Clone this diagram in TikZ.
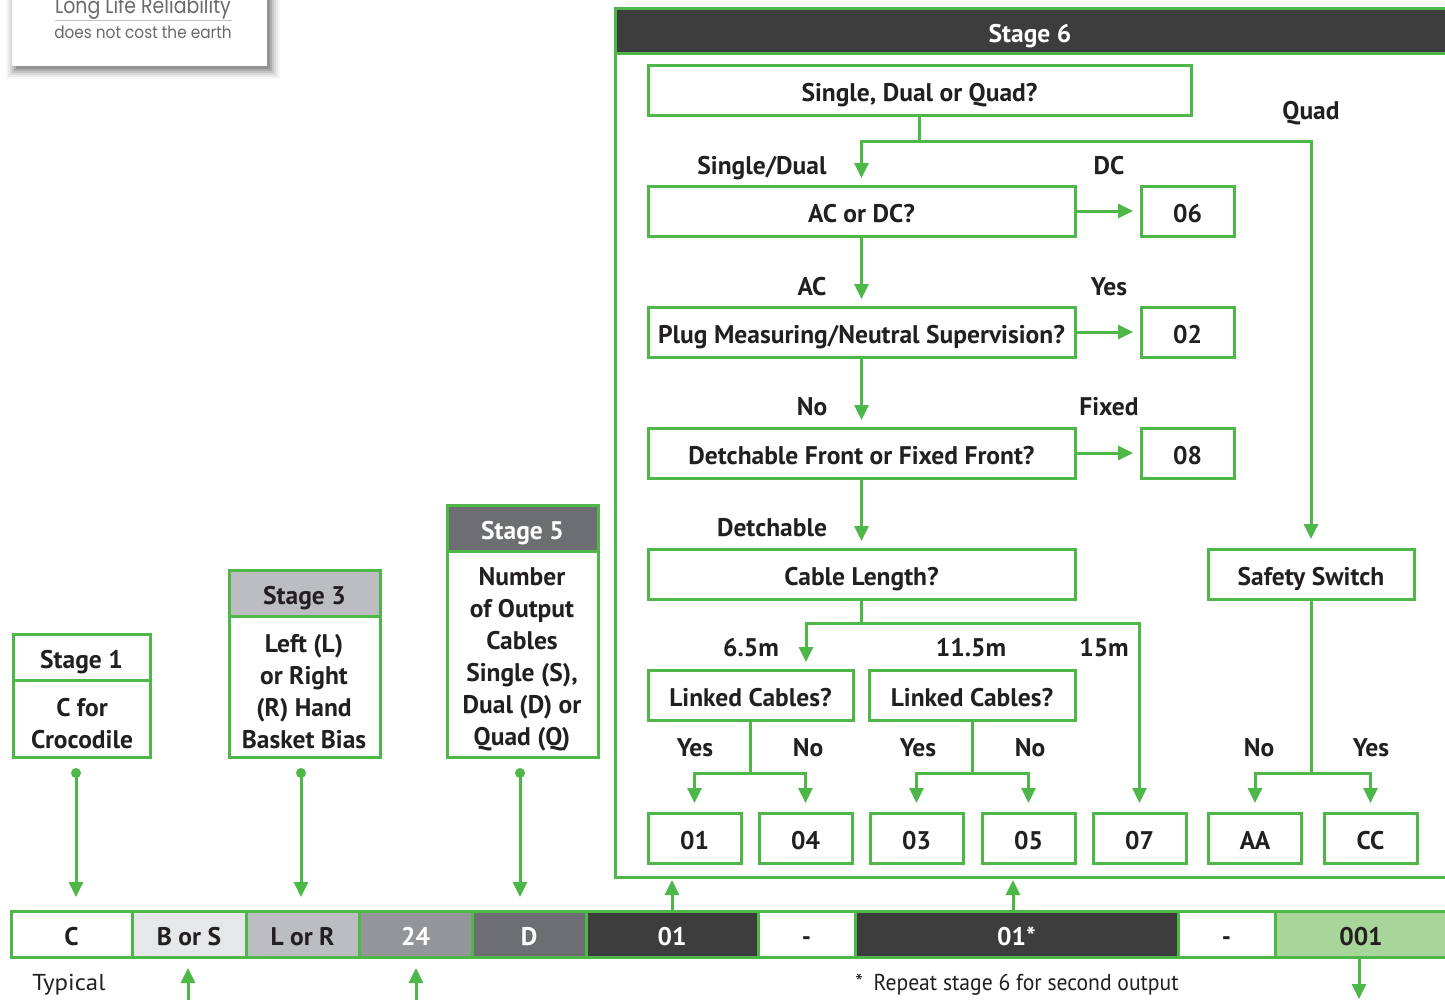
\documentclass[tikz,border=0pt]{standalone}
\usepackage{fontspec}
\setmainfont{PT Sans}
\newfontfamily\logofont{Poppins}
\usetikzlibrary{arrows.meta}
\definecolor{grn}{HTML}{4DB848}
\definecolor{ink}{HTML}{231F20}
\definecolor{darkg}{HTML}{3D3D3D}
\definecolor{ga}{HTML}{E6E7E8}
\definecolor{gb}{HTML}{BCBDC0}
\definecolor{gc}{HTML}{939598}
\definecolor{gd}{HTML}{6D6E71}
\definecolor{lgrn}{HTML}{A8D69A}
\definecolor{logog}{HTML}{6A6A6A}
\begin{document}
\begin{tikzpicture}[x=1pt,y=-1pt,
  every node/.style={font=\fontsize{25.5}{32}\selectfont\bfseries, text=ink, inner sep=0pt, outer sep=0pt},
  one/.style={text height=23pt, text depth=0pt},
  lbl/.style={text height=18pt, text depth=0pt},
  box/.style={draw=grn, line width=3pt, fill=white, one},
  qbox/.style={box, minimum width=427pt, minimum height=50pt},
  rbox/.style={box, minimum width=93pt, minimum height=50pt},
  cell/.style={draw=grn, line width=3pt, minimum height=46pt, one},
  frame/.style={draw=grn, line width=3pt, fill=white},
  body/.style={align=center},
  regular/.style={font=\fontsize{23}{28}\selectfont, lbl},
  conn/.style={draw=grn, line width=3pt},
  arr/.style={conn, -{Triangle[length=15pt,width=14pt]}},
  dot/.style={circle, fill=grn, minimum size=10pt, inner sep=0pt}
]
\useasboundingbox (0,0) rectangle (1445,999);
\clip (0,0) rectangle (1445,999);

% logo card with soft shadow
\foreach \o/\a in {10/0.03,8/0.05,6/0.07,4/0.09,2/0.12,0/0.15}{
  \fill[black, opacity=\a] (12-\o+4,-20) rectangle (267+\o+3,66+\o+3);
}
\node[fill=white, minimum width=255pt, minimum height=86pt] (logo) at (139.5,23) {};
\node[font=\logofont\fontsize{22}{24}\selectfont, text=logog, text height=15pt, text depth=0pt] (ll1) at (143,6) {\scalebox{0.86}[1]{Long Life Reliability}};
\coordinate (lla) at (55,20.5);
\coordinate (llb) at (232,20.5);
\draw[gray!50, line width=1.2pt] (lla) -- (llb);
\node[font=\logofont\fontsize{17}{18}\selectfont, text=logog, text height=10pt, text depth=0pt] (ll2) at (143,33) {\scalebox{0.9}[1]{does not cost the earth}};

% Stage 6 frame
\node[draw=grn, line width=3pt, minimum width=835pt, minimum height=869pt] (s6) at (1032.5,442.5) {};
\node[draw=grn, line width=3pt, fill=darkg, minimum width=835pt, minimum height=45pt] (s6h) at (1032.5,30.5) {};
\node[text=white, lbl] (s6t) at (1030,33) {Stage 6};

% Stage 6 decision boxes
\node[box, minimum width=543pt, minimum height=50pt] (q0) at (919.5,90) {Single, Dual or Quad?};
\node[qbox] (q1) at (861.5,211) {AC or DC?};
\node[rbox] (r06) at (1187.5,211) {06};
\node[qbox] (q2) at (861.5,332) {Plug Measuring/Neutral Supervision?};
\node[rbox] (r02) at (1187.5,332) {02};
\node[qbox] (q3) at (861.5,453) {Detchable Front or Fixed Front?};
\node[rbox] (r08) at (1187.5,453) {08};
\node[qbox] (q4) at (861.5,574) {Cable Length?};
\node[box, minimum width=206pt, minimum height=50pt] (ss) at (1311,574) {Safety Switch};
\node[box, minimum width=205pt, minimum height=50pt] (lc1) at (750.5,695) {Linked Cables?};
\node[box, minimum width=206pt, minimum height=50pt] (lc2) at (972,695) {Linked Cables?};
\node[rbox] (o01) at (694.5,838) {01};
\node[rbox] (o04) at (805.5,838) {04};
\node[rbox] (o03) at (916.5,838) {03};
\node[rbox] (o05) at (1028.5,838) {05};
\node[rbox] (o07) at (1139.5,838) {07};
\node[rbox] (oAA) at (1255,838) {AA};
\node[rbox] (oCC) at (1370.5,838) {CC};

% labels
\node[lbl] (tq) at (1311,110) {Quad};
\node[lbl] (tsd) at (762,165) {Single/Dual};
\node[lbl] (tdc) at (1109,165) {DC};
\node[lbl] (tac) at (812,286) {AC};
\node[lbl] (tyes) at (1109,286) {Yes};
\node[lbl] (tno) at (812,406) {No};
\node[lbl] (tfix) at (1109,406) {Fixed};
\node[lbl] (tdet) at (772,527) {Detchable};
\node[lbl] (t65) at (751,647) {6.5m};
\node[lbl] (t115) at (971,647) {11.5m};
\node[lbl] (t15) at (1104,647) {15m};
\node[lbl] (ty1) at (695,747) {Yes};
\node[lbl] (tn1) at (808,747) {No};
\node[lbl] (ty2) at (918,747) {Yes};
\node[lbl] (tn2) at (1030,747) {No};
\node[lbl] (tn3) at (1259,747) {No};
\node[lbl] (ty3) at (1371,747) {Yes};

% junctions
\coordinate (j1) at (919.5,141);
\coordinate (j2) at (861.5,623);
\coordinate (j3) at (750.5,773);
\coordinate (j4) at (972,773);
\coordinate (j5) at (1311,773);
\coordinate (c65) at (806,670);

% connectors in stage 6
\draw[conn] (q0.south) -- (j1);
\draw[arr, shorten >=8pt] (j1) -| (q1.north);
\draw[arr, shorten >=10pt] (j1) -| (ss.north);
\draw[arr, shorten >=8pt] (q1.east) -- (r06.west);
\draw[arr, shorten >=8pt] (q2.east) -- (r02.west);
\draw[arr, shorten >=8pt] (q3.east) -- (r08.west);
\draw[arr, shorten >=8pt] (q1.south) -- (q2.north);
\draw[arr, shorten >=8pt] (q2.south) -- (q3.north);
\draw[arr, shorten >=8pt] (q3.south) -- (q4.north);
\draw[conn] (q4.south) -- (j2);
\draw[arr, shorten >=8pt] (j2) -| (c65);
\draw[arr, shorten >=10pt] (j2) -| (o07.north);
\draw[conn] (lc1.south) -- (j3);
\draw[arr, shorten >=10pt] (j3) -| (o01.north);
\draw[arr, shorten >=10pt] (j3) -| (o04.north);
\draw[conn] (lc2.south) -- (j4);
\draw[arr, shorten >=10pt] (j4) -| (o03.north);
\draw[arr, shorten >=10pt] (j4) -| (o05.north);
\draw[conn] (ss.south) -- (j5);
\draw[arr, shorten >=10pt] (j5) -| (oAA.north);
\draw[arr, shorten >=10pt] (j5) -| (oCC.north);

% Stage 1, 3, 5 boxes
\node[cell, fill=white, minimum width=137pt] (s1h) at (81.5,657) {Stage 1};
\node[frame, minimum width=137pt, minimum height=77pt] (s1b) at (81.5,718.5) {};
\node[body] (s1t) at (82,724) {C for\\Crocodile};
\node[cell, fill=gb, minimum width=151pt] (s3h) at (304.5,593) {Stage 3};
\node[frame, minimum width=151pt, minimum height=141pt] (s3b) at (304.5,686.5) {};
\node[body] (s3t) at (304,692) {Left (L)\\or Right\\(R) Hand\\Basket Bias};
\node[cell, fill=gd, text=white, minimum width=151pt] (s5h) at (522.5,528) {Stage 5};
\node[frame, minimum width=151pt, minimum height=206pt] (s5b) at (522.5,654) {};
\node[body] (s5t) at (522,659) {Number\\of Output\\Cables\\Single (S),\\Dual (D) or\\Quad (Q)};

% bottom code bar
\node[cell, fill=white, minimum width=121pt] (bC) at (71.5,934) {C};
\node[cell, fill=ga, minimum width=114pt] (bBS) at (189,934) {B or S};
\node[cell, fill=gb, minimum width=113pt] (bLR) at (302.5,934) {L or R};
\node[cell, fill=gc, text=white, minimum width=113pt] (b24) at (415.5,934) {24};
\node[cell, fill=gd, text=white, minimum width=114pt] (bD) at (529,934) {D};
\node[cell, fill=darkg, text=white, minimum width=172pt] (b01) at (672,934) {01};
\node[cell, fill=white, minimum width=97pt] (bd1) at (806.5,934) {-};
\node[cell, fill=darkg, text=white, minimum width=323pt] (b01s) at (1016.5,934) {01*};
\node[cell, fill=white, minimum width=97pt] (bd2) at (1226.5,934) {-};
\node[cell, fill=lgrn, minimum width=172pt] (b001) at (1361,934) {001};

% bottom texts
\node[regular] (typ) at (69,981) {\scalebox{1.08}[1]{Typical}};
\node[regular] (rep) at (1017,981) {\scalebox{0.94}[1]{*\enspace Repeat stage 6 for second output}};

% stage -> bar connectors
\node[dot] (d1) at (76,773) {};
\node[dot] (d3) at (301,773) {};
\node[dot] (d5) at (520,773) {};
\draw[arr, shorten >=14pt] (d1.center) -- (d1 |- bC.north);
\draw[arr, shorten >=14pt] (d3.center) -- (d3 |- bLR.north);
\draw[arr, shorten >=14pt] (d5.center) -- (d5 |- bD.north);

% arrows below bar
\coordinate (u1) at (188,1002);
\coordinate (u2) at (416,1002);
\coordinate (u3) at (1359,1002);
\draw[arr, shorten >=11pt] (u1) -- (u1 |- bBS.south);
\draw[arr, shorten >=11pt] (u2) -- (u2 |- b24.south);
\draw[arr, shorten >=3pt] (u3 |- b001.south) -- (u3);

% bar -> stage 6
\draw[arr, shorten >=3pt] (b01.north) -- (b01.north |- s6.south);
\draw[arr, shorten >=3pt] ([xshift=-3.5pt]b01s.north) -- ([xshift=-3.5pt]b01s.north |- s6.south);
\end{tikzpicture}
\end{document}
